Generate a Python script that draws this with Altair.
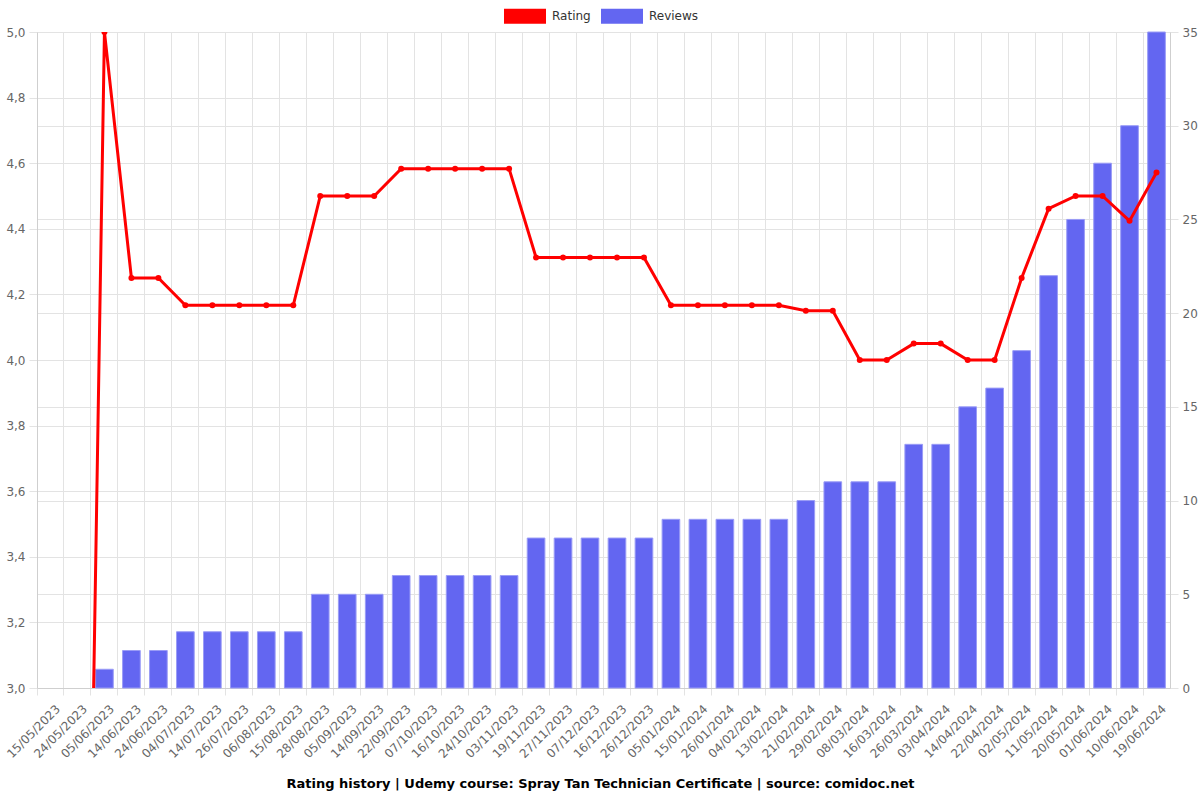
import altair as alt
import pandas as pd

dates = ["15/05/2023", "24/05/2023", "05/06/2023", "14/06/2023", "24/06/2023", "04/07/2023",
         "14/07/2023", "26/07/2023", "06/08/2023", "15/08/2023", "28/08/2023", "05/09/2023",
         "14/09/2023", "22/09/2023", "07/10/2023", "16/10/2023", "24/10/2023", "03/11/2023",
         "19/11/2023", "27/11/2023", "07/12/2023", "16/12/2023", "26/12/2023", "05/01/2024",
         "15/01/2024", "26/01/2024", "04/02/2024", "13/02/2024", "21/02/2024", "29/02/2024",
         "08/03/2024", "16/03/2024", "26/03/2024", "03/04/2024", "14/04/2024", "22/04/2024",
         "02/05/2024", "11/05/2024", "20/05/2024", "01/06/2024", "10/06/2024", "19/06/2024"]

ratings = [0, 0, 5.0, 4.25, 4.25, 4.1667, 4.1667, 4.1667, 4.1667, 4.1667,
           4.5, 4.5, 4.5, 4.5833, 4.5833, 4.5833, 4.5833, 4.5833,
           4.3125, 4.3125, 4.3125, 4.3125, 4.3125,
           4.1667, 4.1667, 4.1667, 4.1667, 4.1667, 4.15, 4.15,
           4.0, 4.0, 4.05, 4.05, 4.0, 4.0, 4.25, 4.4615, 4.5, 4.5, 4.4242, 4.5714]

reviews = [0, 0, 1, 2, 2, 3, 3, 3, 3, 3, 5, 5, 5, 6, 6, 6, 6, 6, 8, 8, 8, 8, 8,
           9, 9, 9, 9, 9, 10, 11, 11, 11, 13, 13, 15, 16, 18, 22, 25, 28, 30, 35]

series_names = ["Rating", "Reviews"]
series_colors = ["#ff0000", "#6366f1"]
rating_ticks = [3.0, 3.2, 3.4, 3.6, 3.8, 4.0, 4.2, 4.4, 4.6, 4.8, 5.0]
review_ticks = [0, 5, 10, 15, 20, 25, 30, 35]

df = pd.DataFrame({"date": dates, "rating": ratings, "reviews": reviews})

FONT = "DejaVu Sans"
GRID = "#e3e3e3"

x_enc = alt.X(
    "date:N", sort=dates,
    scale=alt.Scale(domain=dates, paddingInner=0, paddingOuter=0),
    axis=alt.Axis(title=None, bandPosition=0, labelOffset=4, labelAngle=-45,
                  grid=True, gridColor=GRID, tickColor=GRID, tickSize=7,
                  domainColor="#cfcfcf", labelColor="#666", labelFont=FONT,
                  labelFontSize=12, labelPadding=8),
)

base = alt.Chart(df)

bars = base.transform_filter("datum.reviews > 0").transform_calculate(series="'Reviews'").mark_bar(
    width=alt.RelativeBandSize(0.655), stroke="#9a9cf6", strokeWidth=1
).encode(
    x=x_enc,
    y=alt.Y("reviews:Q", scale=alt.Scale(domain=[0, 35], nice=False),
            axis=alt.Axis(orient="right", title=None, values=review_ticks,
                          grid=True, gridColor=GRID, tickColor=GRID, tickSize=8,
                          domainColor="#cfcfcf", labelColor="#666", labelFont=FONT,
                          labelFontSize=12, labelPadding=4)),
    color=alt.Color("series:N",
                    scale=alt.Scale(domain=series_names, range=series_colors),
                    legend=alt.Legend(title=None, orient="none", direction="horizontal",
                                      legendX=467, legendY=-37,
                                      symbolType="M-1,-0.36H1V0.36H-1Z", symbolSize=1764,
                                      symbolStrokeWidth=0, labelFont=FONT, labelFontSize=12,
                                      labelColor="#333", columnPadding=10, labelOffset=6)),
)

y_rating = alt.Y("rating:Q", scale=alt.Scale(domain=[3, 5], zero=False, nice=False),
                 axis=alt.Axis(orient="left", title=None, values=rating_ticks,
                               labelExpr="replace(format(datum.value, '.1f'), '.', ',')",
                               grid=True, gridColor=GRID, tickColor=GRID, tickSize=8,
                               domainColor="#cfcfcf", labelColor="#666", labelFont=FONT,
                               labelFontSize=12, labelPadding=4))

line = base.mark_line(color="#ff0000", strokeWidth=3, clip=True).encode(x=x_enc, y=y_rating)
points = base.mark_circle(color="#ff0000", size=36, opacity=1, clip=True).encode(x=x_enc, y=y_rating)

chart = alt.layer(bars, alt.layer(line, points)).resolve_scale(y="independent").properties(
    width=1133, height=656,
    autosize=alt.AutoSizeParams(type="none"),
    padding={"left": 37, "top": 32, "right": 30, "bottom": 112},
    title=alt.TitleParams(
        "Rating history | Udemy course: Spray Tan Technician Certificate | source: comidoc.net",
        orient="bottom", anchor="middle", fontSize=13, fontWeight="bold", font=FONT,
        color="#000", offset=18, dx=-3),
).configure_view(stroke=None).configure(background="white")

chart.save("out.html", embed_options={"renderer": "svg", "actions": False})
